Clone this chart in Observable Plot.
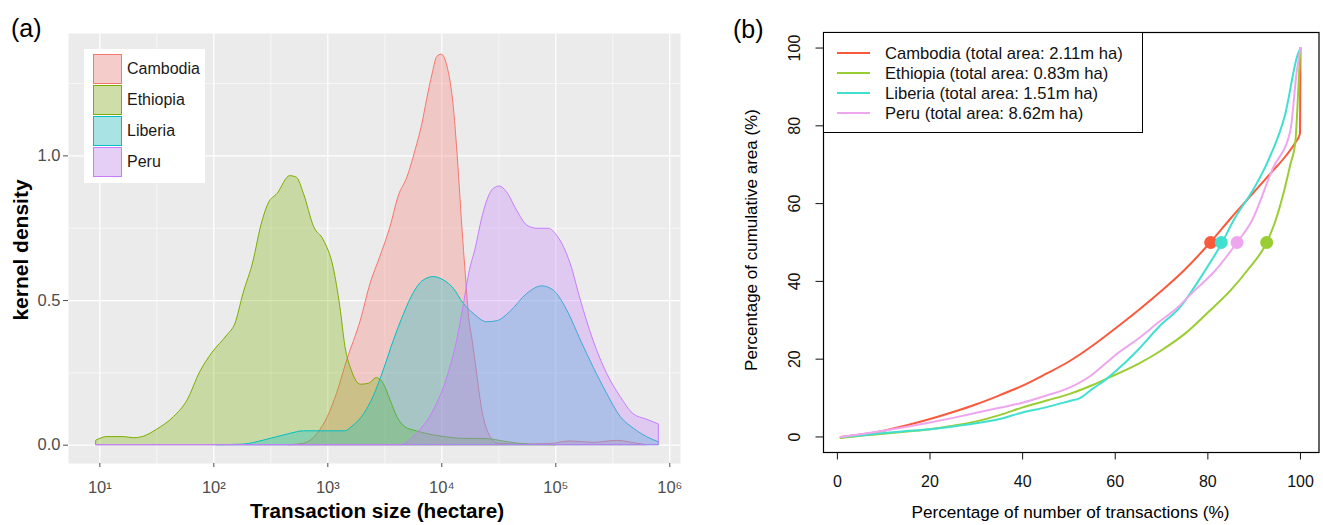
<!DOCTYPE html>
<html>
<head>
<meta charset="utf-8">
<script src="https://cdn.jsdelivr.net/npm/d3@7"></script>
<script src="https://cdn.jsdelivr.net/npm/@observablehq/plot@0.6"></script>
<style>
  body { margin: 0; background: #fff; font-family: "Liberation Sans", Arial, sans-serif; }
  #wrap { position: relative; width: 1323px; height: 525px; overflow: hidden; background: #fff; }
  #wrap svg { display: block; }
</style>
</head>
<body>
<div id="wrap"></div>
<script>
// ---------- DATA ----------
const countries = ["Cambodia", "Ethiopia", "Liberia", "Peru"];

// Panel (a): kernel density of log10(transaction size, ha)
const cambodiaDensity = [[2.66,0],[2.79,0.005],[2.91,0.039],[3.0,0.097],[3.08,0.177],[3.17,0.293],[3.29,0.431],[3.375,0.558],[3.46,0.65],[3.55,0.754],[3.62,0.858],[3.70,0.927],[3.77,1.019],[3.83,1.111],[3.87,1.192],[3.92,1.284],[3.96,1.342],[4.0,1.35],[4.05,1.308],[4.105,1.169],[4.15,0.938],[4.18,0.754],[4.21,0.592],[4.24,0.442],[4.27,0.362],[4.31,0.247],[4.35,0.132],[4.40,0.052],[4.49,0.006],[4.7,0.002],[4.95,0.004],[5.13,0.013],[5.33,0.008],[5.54,0.015],[5.70,0.006],[5.80,0]];
const ethiopiaDensity = [[0.971,0.016],[1.065,0.028],[1.21,0.028],[1.30,0.024],[1.39,0.030],[1.50,0.053],[1.65,0.097],[1.77,0.155],[1.88,0.252],[1.99,0.32],[2.12,0.38],[2.19,0.42],[2.26,0.523],[2.35,0.638],[2.41,0.748],[2.48,0.834],[2.56,0.869],[2.67,0.93],[2.73,0.924],[2.79,0.869],[2.88,0.754],[2.965,0.708],[3.05,0.615],[3.11,0.477],[3.155,0.339],[3.21,0.258],[3.29,0.209],[3.36,0.212],[3.43,0.232],[3.49,0.212],[3.55,0.155],[3.61,0.097],[3.68,0.062],[3.78,0.048],[3.99,0.030],[4.19,0.022],[4.40,0.021],[4.55,0.012],[4.7,0.004],[4.85,0.001],[5.0,0]];
const liberiaDensity = [[2.03,0],[2.26,0.002],[2.44,0.016],[2.67,0.039],[2.79,0.048],[3.155,0.048],[3.21,0.062],[3.32,0.108],[3.40,0.166],[3.49,0.258],[3.58,0.362],[3.67,0.454],[3.75,0.523],[3.84,0.569],[3.93,0.581],[4.02,0.569],[4.105,0.541],[4.19,0.49],[4.28,0.454],[4.40,0.425],[4.49,0.429],[4.60,0.46],[4.75,0.523],[4.88,0.549],[4.98,0.535],[5.10,0.466],[5.22,0.362],[5.33,0.27],[5.45,0.178],[5.57,0.097],[5.685,0.057],[5.80,0.028],[5.904,0.010]];
const peruDensity = [[0.971,0],[3.64,0],[3.78,0.039],[3.93,0.12],[4.05,0.235],[4.135,0.362],[4.19,0.477],[4.24,0.592],[4.30,0.684],[4.35,0.777],[4.40,0.846],[4.456,0.886],[4.51,0.894],[4.57,0.875],[4.66,0.811],[4.75,0.759],[4.84,0.748],[4.94,0.748],[5.01,0.725],[5.13,0.627],[5.22,0.5],[5.33,0.362],[5.45,0.247],[5.57,0.166],[5.68,0.108],[5.80,0.088],[5.904,0.072]];
const densityColors = ["#F8766D", "#7CAE00", "#00BFC4", "#C77CFF"];
const sizeTicks = [1, 2, 3, 4, 5, 6];
const sizeTickLabels = ["10¹", "10²", "10³", "10⁴", "10⁵", "10⁶"];
const sizeMinorTicks = [1.5, 2.5, 3.5, 4.5, 5.5];
const densityTicks = [0, 0.5, 1.0];
const densityMinorTicks = [0.25, 0.75, 1.25];

// Panel (b): cumulative area vs cumulative number of transactions (%)
const cambodiaCurve = [[0.7,0],[5,0.6],[10,1.6],[15,3],[20,4.6],[25,6.4],[30,8.4],[35,10.7],[40,13.2],[45,16.2],[50,19.4],[55,23.4],[60,27.9],[65,32.6],[70,37.6],[75,43],[80.5,50],[85,56.3],[90,63],[94,68.4],[97,72.5],[98.9,75.7],[99.9,78],[100,100]];
const ethiopiaCurve = [[0.7,-0.3],[5,0.3],[10,0.8],[15,1.4],[20,2],[25,2.9],[30,4],[35,5.6],[40,7.6],[45,9.3],[50,11],[55,13.3],[60,16],[65,18.8],[70,22.3],[75,26.5],[80,32],[85,37.8],[88.5,42.8],[92.7,50],[94.6,55.6],[96.4,63],[97.8,70],[98.9,76],[99.6,91],[100,100]];
const liberiaCurve = [[1.1,0],[5,0.4],[10,1],[15,1.5],[20,2],[25,2.7],[30,3.5],[35,4.6],[40,6.3],[45,7.6],[50,9.2],[52.4,10],[55,12.3],[58,14.8],[60,16.8],[65,22.5],[69.5,28.4],[74,33.4],[79.4,42.8],[83,49.8],[85.5,55.6],[90,64],[93,71],[96.7,83],[99.4,98.3],[100,100]];
const peruCurve = [[0.7,0],[5,0.7],[10,1.6],[15,2.6],[20,3.7],[25,4.9],[30,6.2],[35,7.5],[40,8.8],[45,10.6],[50,12.6],[55,16],[58,19],[60,21],[65,25.3],[69.5,29.6],[73.2,33],[77,37.5],[81.6,42.8],[86.3,50],[89.5,55.6],[94,69],[97.8,78.7],[99.2,94],[100,100]];
const halfAreaAt = [80.6, 92.7, 82.9, 86.3]; // % of transactions where 50% of area is reached
const curveColors = ["#fa5a3c", "#9acd32", "#40e0d0", "#eea6ee"];
const totalAreas = ["2.11m ha", "0.83m ha", "1.51m ha", "8.62m ha"];
const pctTicks = [0, 20, 40, 60, 80, 100];

// ---------- BUILD TABLES ----------
const densitySeries = [cambodiaDensity, ethiopiaDensity, liberiaDensity, peruDensity];
const densityRows = densitySeries.flatMap((s, i) => s.map(([logSize, density]) => ({country: countries[i], logSize, density})));
const curveSeries = [cambodiaCurve, ethiopiaCurve, liberiaCurve, peruCurve];
const curveRows = curveSeries.flatMap((s, i) => s.map(([pctN, pctA]) => ({country: countries[i], pctN, pctA})));
const halfRows = countries.map((c, i) => ({country: c, pctN: halfAreaAt[i], pctA: 50}));

const FONT = "Liberation Sans, Arial, sans-serif";
const wrap = document.getElementById("wrap");

// ---------- PANEL (a) ----------
const plotA = Plot.plot({
  width: 680, height: 525,
  marginLeft: 68, marginRight: 0, marginTop: 33, marginBottom: 62,
  style: {fontFamily: FONT, background: "transparent", overflow: "visible"},
  x: {domain: [0.725, 6.094]},
  y: {domain: [-0.0633, 1.423]},
  color: {domain: countries, range: densityColors},
  marks: [
    Plot.frame({fill: "#ebebeb", stroke: "none"}),
    Plot.ruleX(sizeMinorTicks, {stroke: "white", strokeWidth: 0.6}),
    Plot.ruleY(densityMinorTicks, {stroke: "white", strokeWidth: 0.6}),
    Plot.ruleX(sizeTicks, {stroke: "white", strokeWidth: 1.2}),
    Plot.ruleY(densityTicks, {stroke: "white", strokeWidth: 1.2}),
    Plot.areaY(densityRows, {x: "logSize", y1: () => 0, y2: "density", z: "country", fill: "country", fillOpacity: 0.3,
      stroke: "country", strokeWidth: 1, curve: "monotone-x"}),
    Plot.axisX(sizeTicks, {tickSize: 4, tickPadding: 14, fontSize: 16.5, color: "#4d4d4d", label: null,
      tickFormat: d => sizeTickLabels[sizeTicks.indexOf(d)]}),
    Plot.axisY(densityTicks, {tickSize: 5, tickPadding: 3, fontSize: 16.5, color: "#4d4d4d", label: null,
      tickFormat: d => d.toFixed(1)})
  ]
});
const divA = document.createElement("div");
Object.assign(divA.style, {position: "absolute", left: "0px", top: "0px"});
divA.appendChild(plotA);
wrap.appendChild(divA);

// ---------- PANEL (b) ----------
const plotB = Plot.plot({
  width: 643, height: 525,
  marginLeft: 143, marginRight: 4.5, marginTop: 32, marginBottom: 73,
  style: {fontFamily: FONT, background: "transparent", overflow: "visible"},
  x: {domain: [-3, 104]},
  y: {domain: [-4, 104]},
  color: {domain: countries, range: curveColors},
  marks: [
    Plot.line(curveRows, {x: "pctN", y: "pctA", z: "country", stroke: "country", strokeWidth: 2, curve: "monotone-x"}),
    Plot.dot(halfRows, {x: "pctN", y: "pctA", fill: "country", r: 6.5}),
    Plot.frame({stroke: "black", strokeWidth: 1.2}),
    Plot.axisX(pctTicks, {tickSize: 7.5, tickPadding: 16, fontSize: 16, color: "#111", label: null}),
    Plot.axisY(pctTicks, {tickSize: 7.5, tickPadding: 16, tickRotate: -90, fontSize: 16, color: "#111", label: null})
  ]
});
const divB = document.createElement("div");
Object.assign(divB.style, {position: "absolute", left: "680px", top: "0px"});
divB.appendChild(plotB);
wrap.appendChild(divB);

// ---------- TEXT & LEGENDS ----------
function addText(text, o) {
  const d = document.createElement("div");
  d.textContent = text;
  Object.assign(d.style, {position: "absolute", whiteSpace: "nowrap", lineHeight: "1",
    fontSize: o.fs + "px", color: o.color || "#000", fontFamily: FONT, fontWeight: o.weight || "normal"});
  if (o.rotate) {
    d.style.left = o.cx + "px"; d.style.top = o.cy + "px";
    d.style.transform = "translate(-50%,-50%) rotate(-90deg)";
  } else if (o.cx != null) {
    d.style.left = o.cx + "px"; d.style.top = (o.baseline - 0.8465 * o.fs) + "px";
    d.style.transform = "translateX(-50%)";
  } else {
    d.style.left = o.left + "px"; d.style.top = (o.baseline - 0.8465 * o.fs) + "px";
  }
  wrap.appendChild(d);
  return d;
}
function addBox(o) {
  const d = document.createElement("div");
  Object.assign(d.style, {position: "absolute", boxSizing: "border-box", left: o.left + "px", top: o.top + "px",
    width: o.width + "px", height: o.height + "px", background: o.bg || "transparent", border: o.border || "none"});
  wrap.appendChild(d);
  return d;
}

// panel labels
addText("(a)", {left: 11, baseline: 37, fs: 25});
addText("(b)", {left: 733, baseline: 38, fs: 25});

// axis titles (a)
addText("kernel density", {rotate: true, cx: 19.5, cy: 250, fs: 21, weight: "bold"});
addText("Transaction size (hectare)", {cx: 377, baseline: 519, fs: 20.7, weight: "bold"});

// axis titles (b)
addText("Percentage of cumulative area (%)", {rotate: true, cx: 751, cy: 240, fs: 17});
addText("Percentage of number of transactions (%)", {cx: 1070.5, baseline: 519, fs: 17.2});

// legend (a)
addBox({left: 84, top: 49, width: 121, height: 134, bg: "#ffffff"});
countries.forEach((c, i) => {
  const blended = d3.interpolateRgb("#f2f2f2", densityColors[i])(0.3);
  addBox({left: 93, top: 53.5 + i * 31, width: 29, height: 30.5, bg: blended, border: "1.3px solid " + densityColors[i]});
  addText(c, {left: 127, baseline: 75 + i * 31, fs: 16, color: "#1a1a1a"});
});

// legend (b)
addBox({left: 823, top: 32, width: 320, height: 100.5, bg: "#ffffff", border: "1.2px solid #000"});
countries.forEach((c, i) => {
  addBox({left: 837, top: 51.7 + i * 20, width: 33, height: 2, bg: curveColors[i]});
  addText(`${c} (total area: ${totalAreas[i]})`, {left: 885, baseline: 59.8 + i * 20, fs: 16.6, color: "#111"});
});
</script>
</body>
</html>
